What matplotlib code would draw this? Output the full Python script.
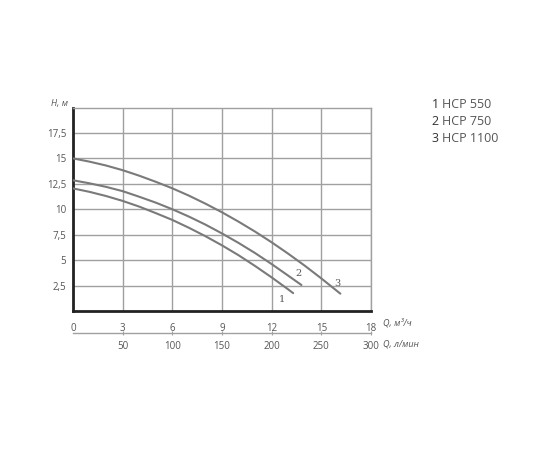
import matplotlib.pyplot as plt

# Pump curves: flow Q (m3/h) vs head H (m)
q1 = [0, 1, 2, 3, 4, 5, 6, 7, 8, 9, 10, 11, 12, 13, 13.3]
h1 = [12.05, 11.71, 11.3, 10.82, 10.26, 9.62, 8.95, 8.18, 7.35, 6.45, 5.48, 4.42, 3.3, 2.12, 1.75]
q2 = [0, 1, 2, 3, 4, 5, 6, 7, 8, 9, 10, 11, 12, 13, 13.8]
h2 = [12.85, 12.55, 12.2, 11.78, 11.23, 10.65, 10.0, 9.28, 8.49, 7.62, 6.69, 5.69, 4.61, 3.47, 2.55]
q3 = [0, 1, 2, 3, 4, 5, 6, 7, 8, 9, 10, 11, 12, 13, 14, 15, 16.15]
h3 = [15.0, 14.68, 14.3, 13.84, 13.3, 12.7, 12.06, 11.34, 10.55, 9.7, 8.78, 7.8, 6.75, 5.63, 4.45, 3.2, 1.7]

curve_labels = ["1", "2", "3"]
label_pos = [(12.6, 1.1), (13.6, 3.7), (16.0, 2.7)]
models = ["HCP 550", "HCP 750", "HCP 1100"]

x_ticks = [0, 3, 6, 9, 12, 15, 18]
y_ticks = [2.5, 5, 7.5, 10, 12.5, 15, 17.5]
y_tick_labels = ["2,5", "5", "7,5", "10", "12,5", "15", "17,5"]
lmin_ticks = [50, 100, 150, 200, 250, 300]

plt.rcParams['font.family'] = ['Open Sans', 'DejaVu Sans']
text_color = '#555555'
curve_color = '#7a7a7a'
grid_color = '#a0a0a0'

fig = plt.figure(figsize=(5.5, 4.5), dpi=100)
ax = fig.add_axes([0.1327, 0.309, 0.5418, 0.452])

ax.set_xlim(0, 18)
ax.set_ylim(0, 20)
ax.set_xticks(x_ticks)
ax.set_yticks(y_ticks)
ax.set_yticklabels(y_tick_labels)
ax.grid(True, color=grid_color, linewidth=1.0)
ax.tick_params(length=0, labelsize=7, colors=text_color, pad=9)
ax.tick_params(axis='y', pad=5)

for side in ['top', 'right']:
    ax.spines[side].set_color(grid_color)
    ax.spines[side].set_linewidth(1.0)
for side in ['left', 'bottom']:
    ax.spines[side].set_color('#222222')
    ax.spines[side].set_linewidth(2.0)

for q, h in [(q1, h1), (q2, h2), (q3, h3)]:
    ax.plot(q, h, color=curve_color, linewidth=1.5, zorder=3,
            solid_joinstyle='round', solid_capstyle='round')

for lab, (x, y) in zip(curve_labels, label_pos):
    ax.text(x, y, lab, fontsize=7, color=text_color, family='DejaVu Serif',
            ha='center', va='center')

# second flow scale in l/min below the main one
sec = ax.secondary_xaxis(-0.108, functions=(lambda x: x * 1000 / 60, lambda x: x * 60 / 1000))
sec.set_xticks(lmin_ticks)
sec.tick_params(length=3, direction='inout', labelsize=7, colors=text_color, pad=4, width=0.8)
sec.tick_params(axis='x', color=grid_color)
sec.spines['bottom'].set_color(grid_color)
sec.spines['bottom'].set_linewidth(1.0)

ax.text(-0.3, 20.4, "H, м", fontsize=6.5, color=text_color, style='italic',
        ha='right', va='center', clip_on=False)
ax.text(18.7, -1.2, "Q, м³/ч", fontsize=6.5, color=text_color, style='italic',
        ha='left', va='center', clip_on=False)
ax.text(18.7, -3.25, "Q, л/мин", fontsize=6.5, color=text_color, style='italic',
        ha='left', va='center', clip_on=False)

for i, (lab, name) in enumerate(zip(curve_labels, models)):
    y = 0.768 - i * 0.038
    fig.text(0.785, y, lab, fontsize=9, color='#333333', ha='left', va='center')
    fig.text(0.803, y, name, fontsize=9, color=text_color, ha='left', va='center')

fig.savefig('out.png', dpi=100)
